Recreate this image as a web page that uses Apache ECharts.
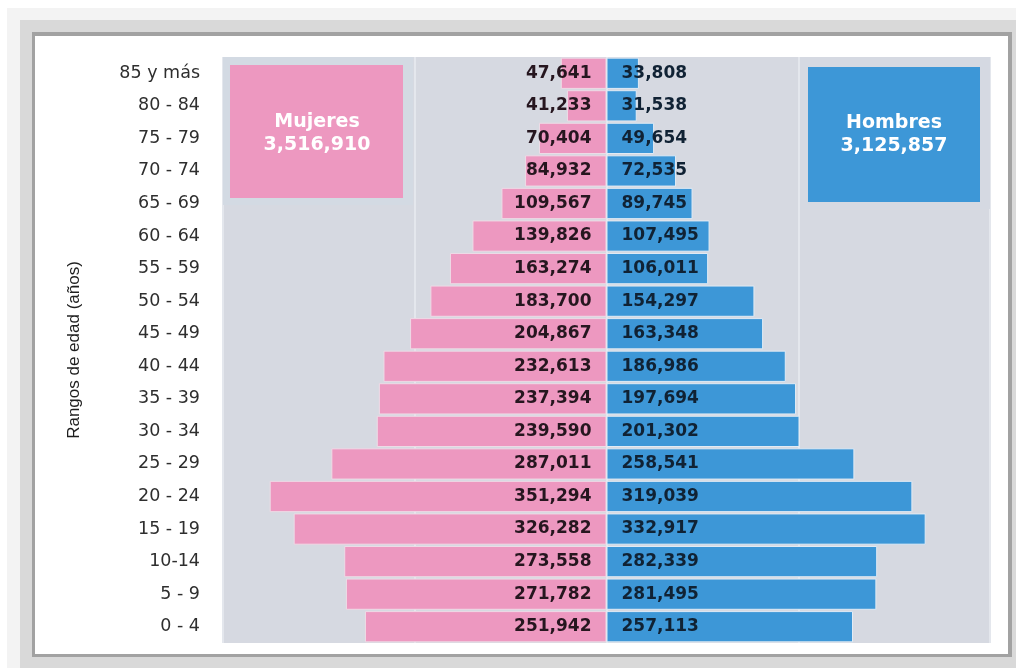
<!DOCTYPE html>
<html><head><meta charset="utf-8">
<script src="https://cdn.jsdelivr.net/npm/echarts@6/dist/echarts.min.js"></script>
<style>html,body{margin:0;padding:0;background:#fff}#c{width:1016px;height:668px}</style>
</head><body><div id="c"></div>
<script>
const categories = ['85 y más','80 - 84','75 - 79','70 - 74','65 - 69','60 - 64','55 - 59','50 - 54','45 - 49','40 - 44','35 - 39','30 - 34','25 - 29','20 - 24','15 - 19','10-14','5 - 9','0 - 4'];
const mujeres = [47641,41233,70404,84932,109567,139826,163274,183700,204867,232613,237394,239590,287011,351294,326282,273558,271782,251942];
const hombres = [33808,31538,49654,72535,89745,107495,106011,154297,163348,186986,197694,201302,258541,319039,332917,282339,281495,257113];
const totalMujeres = 3516910;
const totalHombres = 3125857;
const seriesNames = ['Mujeres','Hombres'];

const fmt = v => Math.abs(v).toLocaleString('en-US');
const PINK = '#ed98c0', BLUE = '#3d97d7', PLOT = '#d6d9e1';
const chart = echarts.init(document.getElementById('c'), null, {renderer:'canvas'});

const option = {
  animation: false,
  backgroundColor: '#ffffff',
  grid: {left:223, right:26, top:57, bottom:25, show:true, backgroundColor:PLOT, borderWidth:0},
  xAxis: {
    type:'value', min:-400000, max:400000, interval:200000,
    axisLabel:{show:false}, axisLine:{show:false}, axisTick:{show:false},
    splitLine:{show:true, lineStyle:{color:'#e4e7ed', width:2}}
  },
  yAxis: {
    type:'category', data:categories, inverse:true,
    axisLine:{show:false}, axisTick:{show:false},
    axisLabel:{margin:23, color:'#2e2e2e', fontFamily:'DejaVu Sans', fontSize:17.5},
    name:'Rangos de edad (años)', nameLocation:'middle', nameRotate:90, nameGap:140,
    nameTextStyle:{fontFamily:'Liberation Sans', fontSize:17, color:'#1e1e1e'}
  },
  series: [
    {
      name:seriesNames[0], type:'bar', stack:'p', data:mujeres.map(v=>-v), barCategoryGap:'4%',
      itemStyle:{color:PINK, borderColor:'#eedbe6', borderWidth:1},
      label:{show:true, position:'insideRight', distance:15, formatter:p=>fmt(p.value),
        fontFamily:'DejaVu Sans', fontWeight:'bold', fontSize:17, color:'#26161f'}
    },
    {
      name:seriesNames[1], type:'bar', stack:'p', data:hombres, barCategoryGap:'4%',
      itemStyle:{color:BLUE, borderColor:'#e1ebf5', borderWidth:1},
      label:{show:true, position:'insideLeft', distance:15, formatter:p=>fmt(p.value),
        fontFamily:'DejaVu Sans', fontWeight:'bold', fontSize:17, color:'#102234'}
    }
  ],
  graphic: {
    elements: [
      {type:'rect', z:-101, silent:true, shape:{x:7,y:8,width:1009,height:660}, style:{fill:'#f3f3f3'}},
      {type:'rect', z:-100, silent:true, shape:{x:20,y:20,width:996,height:648}, style:{fill:'#d9d9d9'}},
      {type:'rect', z:-99, silent:true, shape:{x:32,y:32,width:980,height:625}, style:{fill:'#a2a2a2'}},
      {type:'rect', z:-98, silent:true, shape:{x:35,y:36,width:973,height:618}, style:{fill:'#ffffff'}},
      {type:'rect', z:5, silent:true, shape:{x:223,y:57,width:190,height:148}, style:{fill:'#d3dae3'}},
      {type:'rect', z:6, silent:true, shape:{x:230,y:65,width:173,height:133}, style:{fill:PINK}},
      {type:'text', z:7, silent:true, x:317, y:122, style:{text:seriesNames[0], fill:'#fff', font:'bold 19px "DejaVu Sans"', textAlign:'center', textVerticalAlign:'middle'}},
      {type:'text', z:7, silent:true, x:317, y:145, style:{text:fmt(totalMujeres), fill:'#fff', font:'bold 19px "DejaVu Sans"', textAlign:'center', textVerticalAlign:'middle'}},
      {type:'rect', z:5, silent:true, shape:{x:800,y:57,width:190,height:152}, style:{fill:'#d5d9e2'}},
      {type:'rect', z:6, silent:true, shape:{x:808,y:67,width:172,height:135}, style:{fill:BLUE}},
      {type:'text', z:7, silent:true, x:894, y:123, style:{text:seriesNames[1], fill:'#fff', font:'bold 19px "DejaVu Sans"', textAlign:'center', textVerticalAlign:'middle'}},
      {type:'text', z:7, silent:true, x:894, y:146, style:{text:fmt(totalHombres), fill:'#fff', font:'bold 19px "DejaVu Sans"', textAlign:'center', textVerticalAlign:'middle'}}
    ]
  }
};
chart.setOption(option);
</script></body></html>
